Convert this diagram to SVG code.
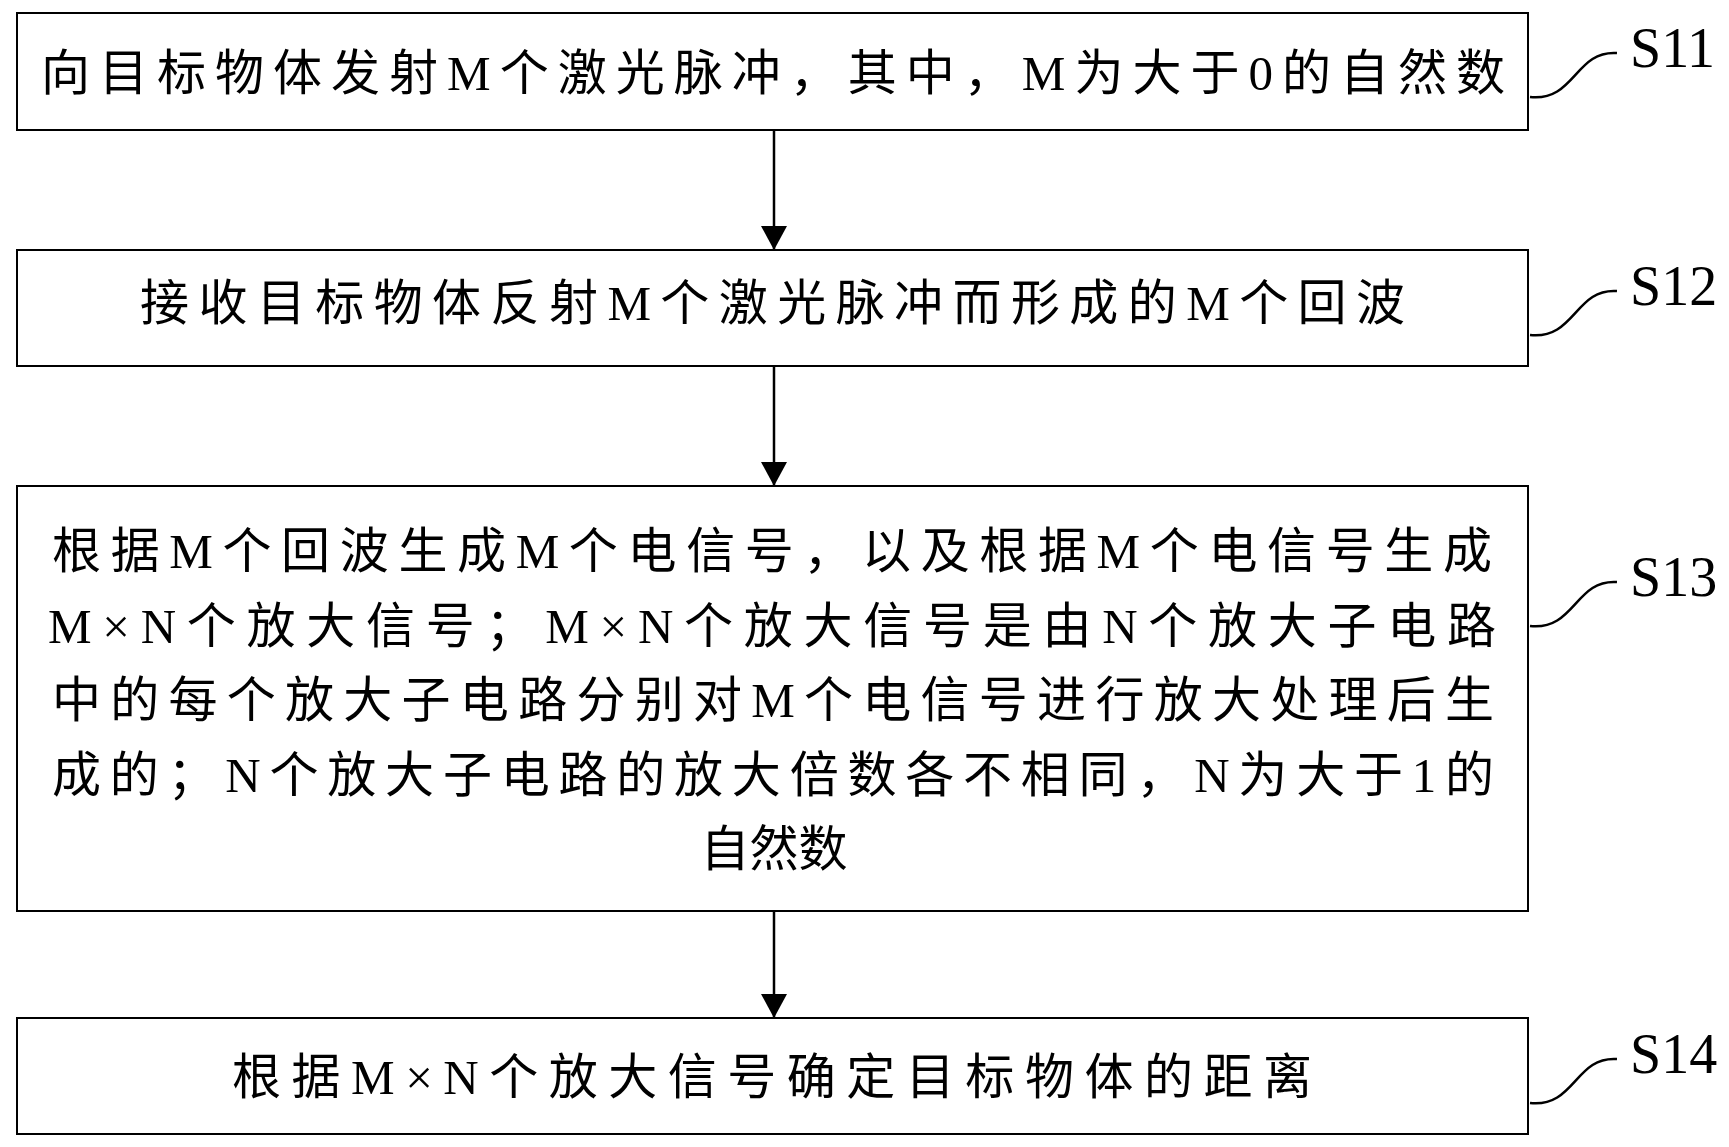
<svg xmlns="http://www.w3.org/2000/svg" width="1729" height="1147" viewBox="0 0 1729 1147">
<style>
.b{fill:#fff;stroke:#000;stroke-width:2}
.t{font-family:"Liberation Serif","Noto Sans CJK SC",serif;font-size:49px;fill:#000}
.l{font-family:"Liberation Serif",serif;font-size:56px;fill:#000}
.c{fill:none;stroke:#000;stroke-width:2.5}
</style>
<defs>
<marker id="ah" viewBox="0 0 24 26" refX="24" refY="13" markerWidth="24" markerHeight="26" markerUnits="userSpaceOnUse" orient="auto"><path d="M0,0L24,13L0,26z"/></marker></defs>
<rect width="1729" height="1147" fill="#fff"/>
<g id="n1"><rect class="b" x="17" y="13" width="1511" height="117"/><text class="t" x="41" y="90" textLength="1464">向目标物体发射M个激光脉冲，其中，M为大于0的自然数</text></g>
<g id="n2"><rect class="b" x="17" y="250" width="1511" height="116"/><text class="t" x="140" y="320" textLength="1265">接收目标物体反射M个激光脉冲而形成的M个回波</text></g>
<g id="n3"><rect class="b" x="17" y="486" width="1511" height="425"/>
<text class="t" x="52" y="568" textLength="1440">根据M个回波生成M个电信号，以及根据M个电信号生成</text>
<text class="t" x="48" y="643" textLength="1448">M×N个放大信号；M×N个放大信号是由N个放大子电路</text>
<text class="t" x="52" y="717" textLength="1442">中的每个放大子电路分别对M个电信号进行放大处理后生</text>
<text class="t" x="52" y="792" textLength="1442">成的；N个放大子电路的放大倍数各不相同，N为大于1的</text>
<text class="t" x="774" y="866" text-anchor="middle">自然数</text></g>
<g id="n4"><rect class="b" x="17" y="1018" width="1511" height="116"/><text class="t" x="232" y="1094" textLength="1080">根据M×N个放大信号确定目标物体的距离</text></g>
<g id="labels">
<text class="l" x="1630" y="67">S11</text>
<text class="l" x="1630" y="305">S12</text>
<text class="l" x="1630" y="596">S13</text>
<text class="l" x="1630" y="1073">S14</text>
</g>
<g id="connectors">
<line class="c" x1="774" y1="130" x2="774" y2="250" marker-end="url(#ah)"/>
<line class="c" x1="774" y1="366" x2="774" y2="486" marker-end="url(#ah)"/>
<line class="c" x1="774" y1="911" x2="774" y2="1018" marker-end="url(#ah)"/>
<path class="c" d="M1530,97 C1575,102 1575,50 1617,53"/>
<path class="c" d="M1530,335 C1575,340 1575,288 1617,291"/>
<path class="c" d="M1530,626 C1575,631 1575,579 1617,582"/>
<path class="c" d="M1530,1103 C1575,1108 1575,1056 1617,1059"/>
</g>
</svg>
